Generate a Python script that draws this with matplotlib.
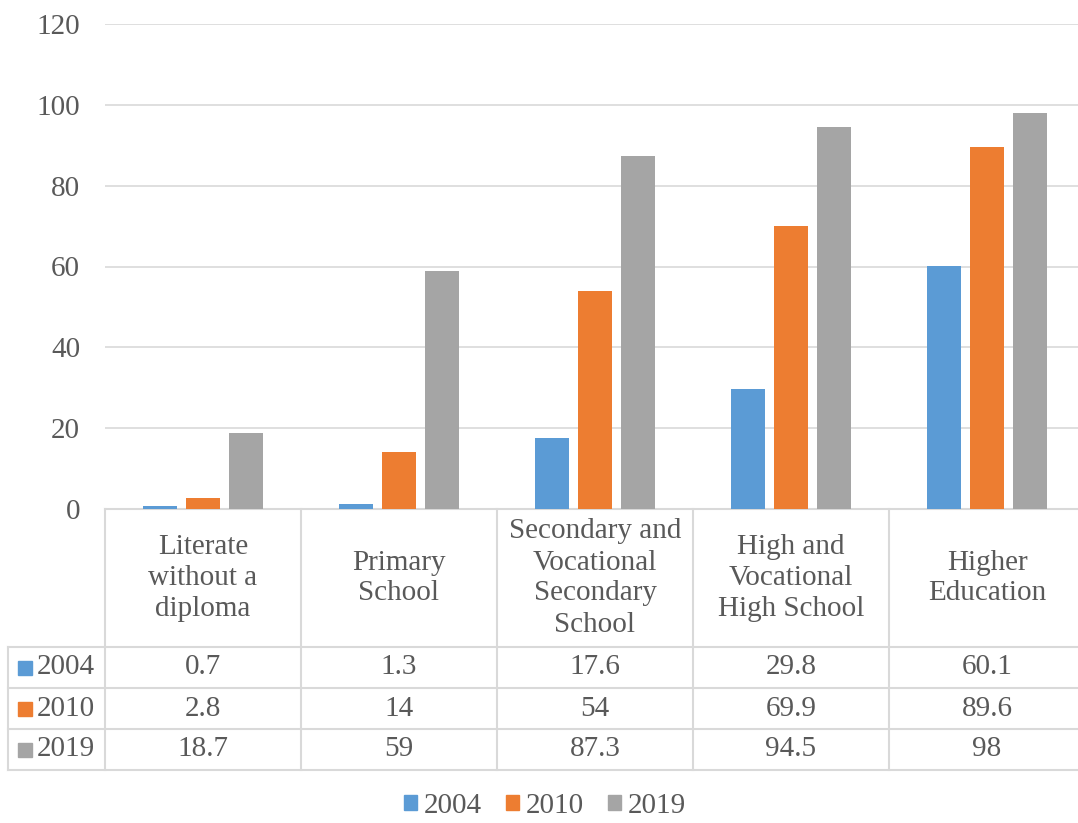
import matplotlib.pyplot as plt
from matplotlib.patches import Patch
from matplotlib.lines import Line2D
import matplotlib.transforms as mtransforms

categories = ["Literate\nwithout a\ndiploma", "Primary\nSchool",
              "Secondary and\nVocational\nSecondary\nSchool",
              "High and\nVocational\nHigh School", "Higher\nEducation"]
years = ["2004", "2010", "2019"]
v2004 = [0.7, 1.3, 17.6, 29.8, 60.1]
v2010 = [2.8, 14, 54, 69.9, 89.6]
v2019 = [18.7, 59, 87.3, 94.5, 98]
series = [v2004, v2010, v2019]
colors = ["#5b9bd5", "#ed7d31", "#a5a5a5"]

plt.rcParams['font.family'] = ['Liberation Serif', 'DejaVu Serif']
txt = "#595959"
line_c = "#d9d9d9"
fs = 21

W, H = 1078, 823
fig = plt.figure(figsize=(W / 100, H / 100), dpi=100)
# plot area in pixels: x 105..1085, y 24..509
ax = fig.add_axes([105 / W, 1 - 509 / H, 980 / W, 485 / H])

n = len(categories)
offs = [-0.22, 0, 0.22]
for i, vals in enumerate(series):
    ax.bar([k + offs[i] for k in range(n)], vals, width=0.175,
           color=colors[i], zorder=3)

ax.set_xlim(-0.5, n - 0.5)
ax.set_ylim(0, 120)
ax.set_yticks(range(0, 121, 20))
ax.set_xticks([])
ax.tick_params(axis='y', length=0, pad=18, labelsize=fs, labelcolor=txt)
ax.grid(axis='y', color=line_c, linewidth=1.2, zorder=0)
for s in ax.spines.values():
    s.set_visible(False)

def ay(py):
    # pixel row -> axes fraction
    return (509 - py) / 485

tr = mtransforms.blended_transform_factory(ax.transData, ax.transAxes)
tra = ax.transAxes
left = (8 - 105) / 980

# table grid
rows_y = [509, 647, 688, 729, 770]
ax.add_line(Line2D([0, 1], [ay(509)] * 2, transform=tra, color=line_c,
                   lw=1.5, clip_on=False))
for py in rows_y[1:]:
    ax.add_line(Line2D([left, 1], [ay(py)] * 2, transform=tra,
                       color=line_c, lw=1.5, clip_on=False))
for k in range(n + 1):
    ax.add_line(Line2D([k - 0.5] * 2, [ay(509), ay(770)], transform=tr,
                       color=line_c, lw=1.5, clip_on=False))
ax.add_line(Line2D([left] * 2, [ay(647), ay(770)], transform=tra,
                   color=line_c, lw=1.5, clip_on=False))

# header labels
for k, c in enumerate(categories):
    ax.text(k, ay(578), c, transform=tr, ha='center', va='center',
            fontsize=fs, color=txt, linespacing=1.25, clip_on=False)

# data rows
for i, vals in enumerate(series):
    ymid = ay((rows_y[i + 1] + rows_y[i + 2]) / 2)
    for k, v in enumerate(vals):
        ax.text(k, ymid, f"{v:g}", transform=tr, ha='center', va='center',
                fontsize=fs, color=txt, clip_on=False)
    ax.add_patch(plt.Rectangle(((18 - 105) / 980, ymid - 7 / 485), 14 / 980, 14 / 485,
                               transform=tra, color=colors[i], clip_on=False))
    ax.text((37 - 105) / 980, ymid, years[i], transform=tra, ha='left', va='center',
            fontsize=fs, color=txt, clip_on=False)

handles = [Patch(color=colors[i], label=years[i]) for i in range(3)]
fig.legend(handles=handles, loc='center', bbox_to_anchor=(545 / W, 1 - 806 / H),
           ncol=3, frameon=False, fontsize=fs, labelcolor=txt,
           handlelength=0.45, handleheight=0.45, handletextpad=0.25,
           columnspacing=0.8)

fig.savefig("out.png", dpi=100)
